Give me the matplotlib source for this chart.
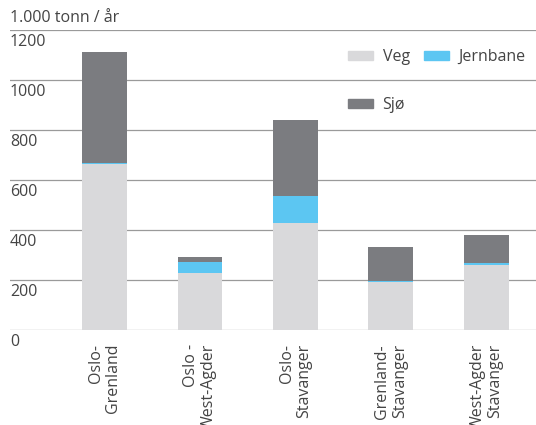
import numpy as np
import matplotlib.pyplot as plt
from matplotlib.patches import Patch

plt.rcParams['font.family'] = ['Open Sans', 'DejaVu Sans']

# freight volumes per corridor, 1000 tonnes per year
routes = ['Oslo-\nGrenland', 'Oslo -\nWest-Agder', 'Oslo-\nStavanger',
          'Grenland-\nStavanger', 'West-Agder\nStavanger']
veg = [664, 230, 427, 192, 260]
jernbane = [6, 42, 109, 4, 8]
sjo = [441, 21, 304, 136, 112]
yticks = [0, 200, 400, 600, 800, 1000, 1200]

c_veg = '#d9d9db'
c_jern = '#5cc6f2'
c_sjo = '#7b7c80'
txt = '#444444'
fs = 11.5

fig = plt.figure(figsize=(5.36, 4.25), dpi=100)
ax = fig.add_axes([10 / 536, 95 / 425, 526 / 536, 300 / 425])

x = np.arange(len(routes))
w = 0.47
veg = np.array(veg)
jernbane = np.array(jernbane)
sjo = np.array(sjo)
ax.bar(x, veg, w, color=c_veg, zorder=3)
ax.bar(x, jernbane, w, bottom=veg, color=c_jern, zorder=3)
ax.bar(x, sjo, w, bottom=veg + jernbane, color=c_sjo, zorder=3)

ax.set_xlim(-0.99, 4.52)
ax.set_ylim(0, 1200)
for v in yticks:
    ax.axhline(v, color='#9a9a9a', lw=0.9, zorder=1)
    ax.text(0.0, v - 46, str(v), transform=ax.get_yaxis_transform(),
            ha='left', va='center', fontsize=fs, color=txt)

for s in ax.spines.values():
    s.set_visible(False)
ax.set_yticks([])
ax.set_xticks(x)
ax.set_xticklabels(routes, rotation=90, fontsize=fs, color=txt,
                   multialignment='right', linespacing=1.15)
ax.tick_params(axis='x', length=0, pad=10)

ax.text(0.0, 1200 + 48, '1.000 tonn / år', transform=ax.get_yaxis_transform(),
        ha='left', va='center', fontsize=fs, color=txt, clip_on=False)

handles = [Patch(color=c_veg, label='Veg'), Patch(color=c_sjo, label='Sjø'),
           Patch(color=c_jern, label='Jernbane')]
ax.legend(handles=handles, ncol=2, frameon=False, fontsize=fs,
          loc='upper left', bbox_to_anchor=(0.643, 0.937),
          borderpad=0, borderaxespad=0,
          handlelength=1.55, handleheight=0.5, handletextpad=0.6,
          columnspacing=0.9, labelspacing=2.0, labelcolor=txt)

fig.savefig('out.png', dpi=100)
